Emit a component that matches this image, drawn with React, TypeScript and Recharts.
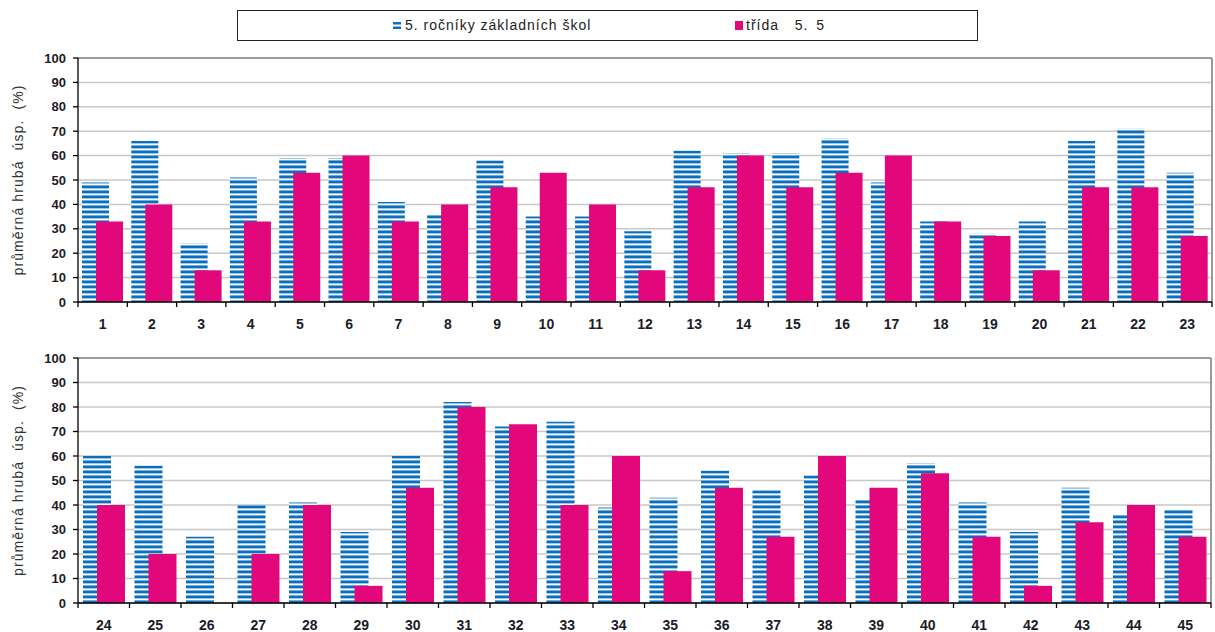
// Two stacked bar panels: school average vs. class 5.5, tasks 1–45.

import { BarChart, Bar, XAxis, YAxis, CartesianGrid, ReferenceLine } from 'recharts';

const topTasks = ['1', '2', '3', '4', '5', '6', '7', '8', '9', '10', '11', '12', '13', '14', '15', '16', '17', '18', '19', '20', '21', '22', '23'];
const topSchools = [49, 66, 24, 51, 59, 59, 41, 36, 58, 35, 35, 29, 62, 61, 61, 67, 49, 33, 28, 33, 66, 71, 53];
const topClass = [33, 40, 13, 33, 53, 60, 33, 40, 47, 53, 40, 13, 47, 60, 47, 53, 60, 33, 27, 13, 47, 47, 27];

const bottomTasks = ['24', '25', '26', '27', '28', '29', '30', '31', '32', '33', '34', '35', '36', '37', '38', '39', '40', '41', '42', '43', '44', '45'];
const bottomSchools = [60, 56, 27, 40, 41, 29, 60, 82, 72, 74, 39, 43, 54, 46, 52, 42, 57, 41, 29, 47, 36, 38];
const bottomClass = [40, 20, 0, 20, 40, 7, 47, 80, 73, 40, 60, 13, 47, 27, 60, 47, 53, 27, 7, 33, 40, 27];

const yTicks = [0, 10, 20, 30, 40, 50, 60, 70, 80, 90, 100];

const SCHOOLS_LABEL = '5. ročníky základních škol';
const CLASS_LABEL = 'třída  5. 5';
const Y_LABEL = 'průměrná hrubá  úsp.  (%)';

const PINK = '#e2087c';
const BLUE = '#0a6fbe';
const FONT = '"Liberation Sans", Arial, sans-serif';
const INK = '#1c1c28';

interface PanelProps {
  tasks: string[];
  schools: number[];
  cls: number[];
  top: number;
  height: number;
  marginTop: number;
  marginRight: number;
  xHeight: number;
  barSize: number;
  barGap: number;
  patternId: string;
}

function Panel({ tasks, schools, cls, top, height, marginTop, marginRight, xHeight, barSize, barGap, patternId }: PanelProps) {
  const data = tasks.map((t, i) => ({ task: t, schools: schools[i], cls: cls[i] }));
  const width = 1215;
  const yWidth = 78;
  const band = (width - yWidth - marginRight) / tasks.length;
  const last = tasks[tasks.length - 1];

  const renderTick = (props: any) => {
    const { x, y, payload } = props;
    return (
      <g>
        <line x1={x - band / 2} x2={x - band / 2} y1={y} y2={y + 5} stroke="#000" strokeWidth={1.3} />
        {payload.value === last && (
          <line x1={x + band / 2} x2={x + band / 2} y1={y} y2={y + 5} stroke="#000" strokeWidth={1.3} />
        )}
        <text x={x} y={y + 27} textAnchor="middle" fontFamily={FONT} fontSize={14} fontWeight="bold" fill={INK}>
          {payload.value}
        </text>
      </g>
    );
  };

  return (
    <div style={{ position: 'absolute', left: 0, top }}>
      <BarChart
        width={width}
        height={height}
        data={data}
        margin={{ top: marginTop, right: marginRight, bottom: 0, left: 0 }}
        barGap={barGap}
      >
        <defs>
          <pattern id={patternId} patternUnits="userSpaceOnUse" width={8} height={5}>
            <rect x={0} y={0} width={8} height={5} fill="#fff" />
            <rect x={0} y={0} width={8} height={0.8} fill="#6aa9dc" />
            <rect x={0} y={0.8} width={8} height={2.6} fill={BLUE} />
          </pattern>
        </defs>
        <CartesianGrid vertical={false} stroke="#c8c8c8" strokeWidth={1.5} />
        <CartesianGrid
          horizontal={false}
          stroke="#9a9a9a"
          strokeWidth={2}
          verticalCoordinatesGenerator={({ offset }: any) => [offset.left + offset.width]}
        />
        <ReferenceLine y={100} stroke="#9a9a9a" strokeWidth={2} />
        <XAxis
          dataKey="task"
          height={xHeight}
          interval={0}
          tickLine={false}
          tickSize={0}
          tickMargin={0}
          axisLine={{ stroke: '#000', strokeWidth: 1.3 }}
          tick={renderTick}
        />
        <YAxis
          width={yWidth}
          domain={[0, 100]}
          ticks={yTicks}
          interval={0}
          tickSize={5}
          tickMargin={7}
          axisLine={{ stroke: '#000', strokeWidth: 1.3 }}
          tickLine={{ stroke: '#000', strokeWidth: 1.3 }}
          tick={{ fontFamily: FONT, fontSize: 13, fontWeight: 'bold', fill: INK }}
          label={{
            content: ({ viewBox }: any) => {
              const cy = viewBox.y + viewBox.height / 2;
              return (
                <text
                  x={18}
                  y={cy}
                  transform={`rotate(-90, 18, ${cy})`}
                  textAnchor="middle"
                  dominantBaseline="central"
                  fontFamily={FONT}
                  fontSize={14}
                  letterSpacing={1.1}
                  style={{ whiteSpace: 'pre' }}
                  fill="#333"
                >
                  {Y_LABEL}
                </text>
              );
            },
          }}
        />
        <Bar dataKey="schools" name={SCHOOLS_LABEL} fill={`url(#${patternId})`} barSize={barSize} isAnimationActive={false} />
        <Bar dataKey="cls" name={CLASS_LABEL} fill={PINK} barSize={barSize} isAnimationActive={false} />
      </BarChart>
    </div>
  );
}

function LegendBox() {
  const text = { fontFamily: FONT, fontSize: 14, color: '#222', whiteSpace: 'pre' as const, letterSpacing: 1 };
  return (
    <div
      style={{
        position: 'absolute',
        left: 237,
        top: 10,
        width: 739,
        height: 29,
        border: '1.5px solid #222',
        background: '#fff',
      }}
    >
      <div style={{ position: 'absolute', left: 155, top: 6, display: 'flex', alignItems: 'center' }}>
        <svg width={9} height={9} style={{ marginRight: 3 }}>
          <rect x={0} y={1} width={8} height={2.5} fill={BLUE} />
          <rect x={0} y={5.5} width={8} height={2.5} fill={BLUE} />
        </svg>
        <span style={text}>{SCHOOLS_LABEL}</span>
      </div>
      <div style={{ position: 'absolute', left: 497, top: 6, display: 'flex', alignItems: 'center' }}>
        <svg width={9} height={9} style={{ marginRight: 2 }}>
          <rect x={0} y={0} width={8} height={9} fill={PINK} />
        </svg>
        <span style={{ ...text, wordSpacing: 3 }}>{CLASS_LABEL}</span>
      </div>
    </div>
  );
}

export default function App() {
  return (
    <div style={{ position: 'absolute', left: 0, top: 0, width: 1215, height: 632, background: '#fff' }}>
      <Panel
        tasks={topTasks}
        schools={topSchools}
        cls={topClass}
        top={0}
        height={335}
        marginTop={58}
        marginRight={3}
        xHeight={33}
        barSize={27}
        barGap={-13}
        patternId="stripesTop"
      />
      <Panel
        tasks={bottomTasks}
        schools={bottomSchools}
        cls={bottomClass}
        top={335}
        height={297}
        marginTop={23}
        marginRight={4}
        xHeight={29}
        barSize={28}
        barGap={-14}
        patternId="stripesBottom"
      />
      <LegendBox />
    </div>
  );
}
